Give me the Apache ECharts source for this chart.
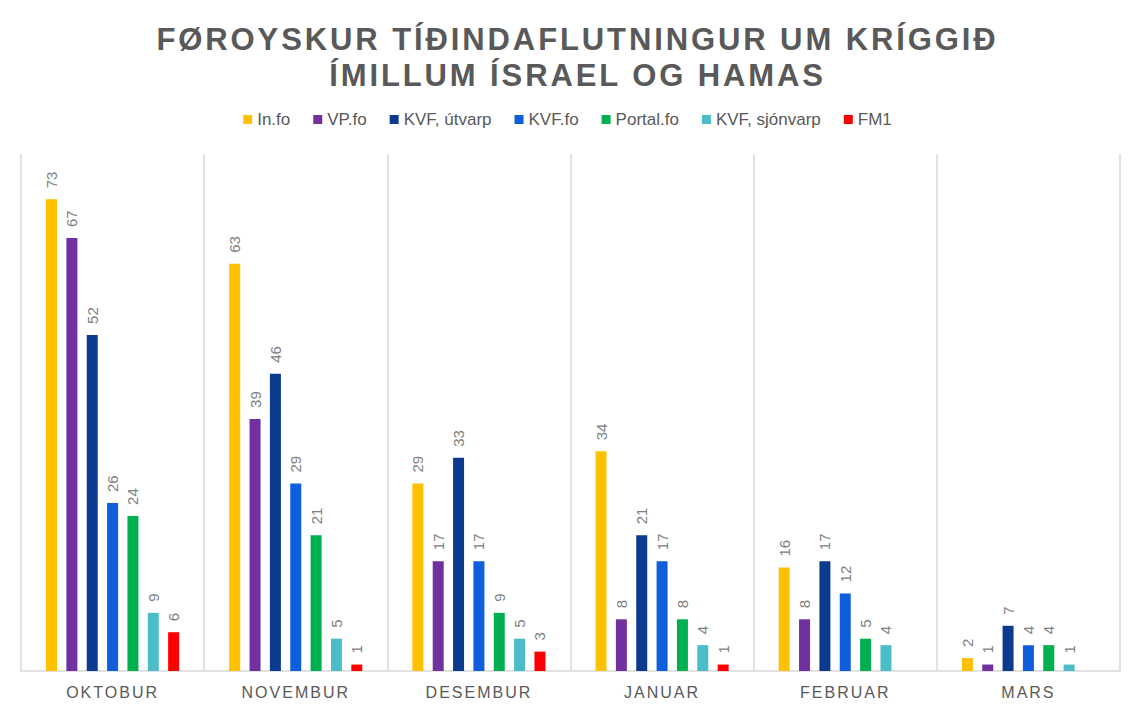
<!DOCTYPE html>
<html lang="fo">
<head>
<meta charset="UTF-8">
<title>Føroyskur tíðindaflutningur</title>
<style>
    html, body { margin: 0; padding: 0; background: #fff; }
    #main { width: 1135px; height: 712px; }
</style>
</head>
<body>
<div id="main"></div>
<script src="https://cdn.jsdelivr.net/npm/echarts@6/dist/echarts.min.js"></script>
<script>
    var months = ['OKTOBUR', 'NOVEMBUR', 'DESEMBUR', 'JANUAR', 'FEBRUAR', 'MARS'];
    var seriesNames = ['In.fo', 'VP.fo', 'KVF, útvarp', 'KVF.fo', 'Portal.fo', 'KVF, sjónvarp', 'FM1'];
    var infoData = [73, 63, 29, 34, 16, 2];
    var vpData = [67, 39, 17, 8, 8, 1];
    var kvfUtvarpData = [52, 46, 33, 21, 17, 7];
    var kvfFoData = [26, 29, 17, 17, 12, 4];
    var portalData = [24, 21, 9, 8, 5, 4];
    var kvfSjonvarpData = [9, 5, 5, 4, 4, 1];
    var fm1Data = [6, 1, 3, 1, null, null];
    var colors = ['#FFC000', '#7030A0', '#0B3A8F', '#0F5FDC', '#00B050', '#4ABDC8', '#FF0000'];

    var allData = [infoData, vpData, kvfUtvarpData, kvfFoData, portalData, kvfSjonvarpData, fm1Data];
    var titleLines = ['FØROYSKUR TÍÐINDAFLUTNINGUR UM KRÍGGIÐ', 'ÍMILLUM ÍSRAEL OG HAMAS'];
    var font = '"Liberation Sans", Arial, sans-serif';

    var chart = echarts.init(document.getElementById('main'), null, { renderer: 'svg' });

    var series = seriesNames.map(function (name, i) {
        return {
            name: name,
            type: 'bar',
            data: allData[i],
            barWidth: 11,
            barGap: '85%',
            itemStyle: { color: colors[i] },
            label: {
                show: true,
                position: 'top',
                rotate: 90,
                align: 'left',
                verticalAlign: 'middle',
                distance: 11,
                color: '#808080',
                fontSize: 15,
                fontFamily: font
            }
        };
    });

    chart.setOption({
        animation: false,
        color: colors,
        title: {
            text: titleLines.join('\n'),
            left: 'center',
            top: 16,
            textStyle: {
                fontFamily: font,
                fontSize: 31,
                fontWeight: 'bold',
                color: '#595959',
                lineHeight: 36
            }
        },
        legend: {
            top: 106,
            left: 'center',
            icon: 'rect',
            itemWidth: 9,
            itemHeight: 9,
            itemGap: 23,
            textStyle: { fontFamily: font, fontSize: 17, color: '#595959' },
            data: seriesNames
        },
        grid: { left: 21, right: 15, top: 154, bottom: 41 },
        xAxis: {
            type: 'category',
            data: months,
            axisLine: { lineStyle: { color: '#D9D9D9', width: 1.5 } },
            axisTick: { show: false },
            splitLine: { show: true, lineStyle: { color: '#D9D9D9', width: 1.5 } },
            axisLabel: {
                fontFamily: font,
                fontSize: 16,
                color: '#595959',
                margin: 13
            }
        },
        yAxis: {
            type: 'value',
            min: 0,
            max: 80,
            show: false
        },
        series: series
    });

    // letter spacing for title and month labels (svg text)
    document.querySelectorAll('#main text').forEach(function (t) {
        var s = t.textContent;
        if (titleLines.indexOf(s) >= 0) {
            t.setAttribute('letter-spacing', '2.9');
            t.setAttribute('dx', '10');
        } else if (months.indexOf(s) >= 0) {
            t.setAttribute('letter-spacing', '2');
        }
    });
</script>
</body>
</html>
